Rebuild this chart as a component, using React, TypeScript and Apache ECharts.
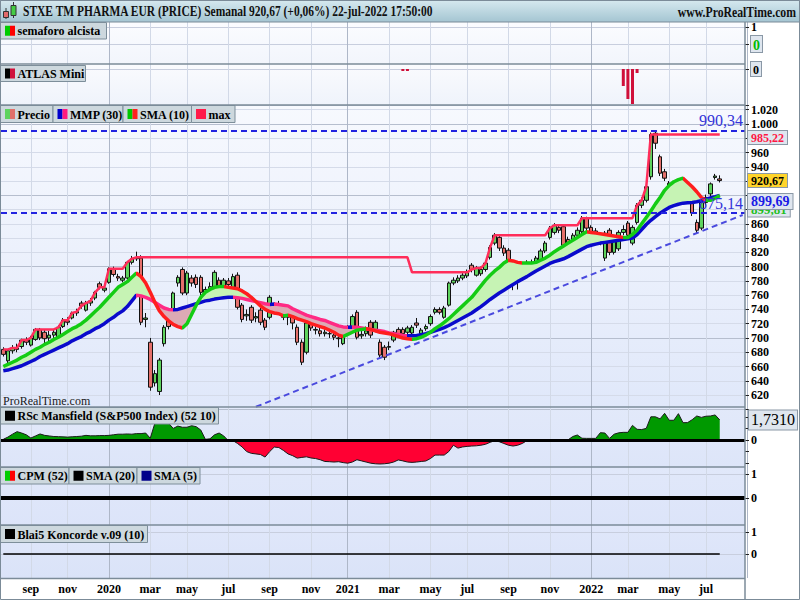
import React, { useEffect, useRef } from "react";
import * as echarts from "echarts";

const FONT = '"Liberation Serif", "DejaVu Serif", serif';

// ---------------- data ----------------
const firstWeek = "2019-07-26"; // first weekly bar (Friday)
const emptyWeeksAfter = 5;
const monthNames = ["ene", "feb", "mar", "abr", "may", "jun", "jul", "ago", "sep", "oct", "nov", "dic"];
const titleText = "STXE TM PHARMA EUR (PRICE) Semanal 920,67 (+0,06%) 22-jul-2022 17:50:00";

const opens = [
  684, 668, 682, 686, 688, 697, 690, 698, 712, 708,
  700, 704, 700, 716, 724, 728, 735, 749, 739, 749,
  756, 776, 767, 778, 796, 786, 781, 784, 806, 811,
  812, 726, 694, 637, 625, 692, 729, 732, 777, 796,
  763, 784, 785, 785, 763, 768, 767, 781, 772, 780,
  768, 788, 746, 731, 743, 728, 739, 725, 729, 736,
  748, 743, 729, 736, 715, 694, 680, 725, 711, 710,
  706, 706, 704, 700, 692, 706, 716, 736, 703, 706,
  722, 711, 694, 687, 687, 697, 712, 712, 708, 707,
  721, 706, 713, 720, 736, 740, 729, 746, 777, 780,
  784, 787, 802, 788, 790, 796, 813, 833, 841, 826,
  823, 778, 781, 787, 791, 806, 805, 809, 822, 841,
  848, 855, 856, 838, 826, 844, 849, 868, 855, 850,
  840, 812, 851, 820, 825, 848, 861, 833, 862, 886,
  893, 926, 987, 954, 933, 898, 912, 889, 905, 907,
  890, 862, 854, 890, 902, 925, 923,
];
const highs = [
  687, 684, 690, 692, 699, 701, 703, 714, 714, 712,
  710, 712, 718, 728, 729, 737, 741, 752, 752, 756,
  766, 779, 773, 799, 800, 790, 787, 808, 815, 821,
  816, 735, 700, 655, 672, 718, 732, 765, 788, 799,
  794, 788, 789, 788, 772, 778, 795, 785, 784, 784,
  790, 792, 749, 740, 746, 736, 742, 728, 760, 750,
  752, 747, 738, 740, 719, 698, 724, 729, 716, 714,
  712, 710, 708, 704, 709, 718, 733, 739, 712, 716,
  725, 725, 698, 690, 695, 710, 715, 715, 717, 718,
  728, 714, 719, 733, 743, 743, 745, 779, 785, 788,
  791, 796, 805, 801, 800, 808, 830, 847, 844, 830,
  826, 794, 794, 796, 809, 810, 815, 825, 836, 857,
  861, 859, 858, 842, 847, 855, 871, 870, 858, 854,
  845, 850, 854, 843, 851, 858, 864, 858, 889, 897,
  915, 988, 990.34, 957, 937, 920, 916, 903, 908, 910,
  893, 866, 893, 901, 918, 930, 928,
];
const lows = [
  674, 662, 678, 680, 685, 690, 688, 696, 697, 686,
  695, 700, 698, 714, 718, 726, 731, 741, 737, 745,
  753, 768, 764, 776, 786, 780, 778, 782, 803, 808,
  718, 715, 626, 632, 620, 688, 712, 728, 772, 760,
  760, 772, 770, 760, 758, 764, 765, 768, 769, 771,
  766, 740, 722, 724, 721, 722, 718, 711, 726, 733,
  738, 725, 718, 712, 690, 662, 677, 710, 705, 702,
  702, 700, 697, 687, 690, 703, 714, 698, 699, 702,
  700, 708, 672, 669, 683, 694, 700, 703, 705, 704,
  714, 703, 710, 717, 733, 733, 727, 744, 774, 777,
  781, 784, 792, 786, 787, 793, 810, 830, 822, 815,
  781, 767, 768, 784, 788, 799, 802, 806, 819, 838,
  845, 847, 826, 815, 822, 840, 846, 850, 843, 836,
  830, 808, 816, 817, 822, 844, 840, 830, 859, 882,
  890, 922, 965, 927, 920, 895, 888, 885, 898, 892,
  871, 847, 851, 886, 899, 922, 918,
];
const closes = [
  677, 682, 686, 684, 697, 694, 700, 712, 700, 699,
  704, 708, 715, 725, 722, 735, 737, 745, 749, 752,
  764, 771, 770, 797, 789, 784, 784, 806, 811, 813,
  722, 728, 631, 650, 669, 715, 716, 763, 785, 763,
  791, 777, 775, 764, 768, 772, 792, 771, 781, 775,
  786, 743, 726, 733, 725, 730, 722, 715, 757, 746,
  743, 729, 733, 721, 694, 666, 721, 714, 712, 706,
  708, 706, 701, 699, 706, 714, 730, 701, 705, 710,
  704, 722, 676, 673, 688, 708, 703, 706, 714, 715,
  718, 711, 716, 730, 740, 736, 742, 777, 781, 784,
  788, 792, 796, 798, 796, 805, 827, 844, 826, 819,
  785, 791, 791, 791, 806, 803, 812, 822, 833, 854,
  858, 851, 830, 820, 844, 851, 868, 854, 847, 840,
  836, 847, 820, 840, 848, 852, 844, 855, 886, 893,
  912, 985.22, 973, 931, 924, 917, 893, 900, 902, 896,
  875, 851, 890, 897, 916, 927, 920.67,
];
const sma10 = [
  660, 663, 666, 669, 673, 676, 680, 684, 687, 691,
  694, 698, 701, 705, 709, 713, 716, 720, 725, 731,
  737, 743, 750, 757, 764, 771, 775, 779, 785, 791,
  786, 777, 764, 750, 738, 730, 724, 719, 716, 714,
  720, 733, 746, 757, 764, 768, 771, 772, 772, 771,
  770, 769, 766, 762, 757, 751, 745, 740, 737, 735,
  734, 731, 732, 730, 727, 725, 723, 720, 718, 716,
  714, 711, 708, 704, 702, 705, 708, 711, 712, 713,
  712, 710, 708, 707, 706, 704, 702, 700, 699, 698,
  699, 701, 704, 708, 713, 717, 722, 727, 733, 739,
  745, 751, 757, 765, 773, 781, 788, 794, 799, 805,
  809, 808, 806, 805, 805, 805, 806, 809, 812, 816,
  821, 825, 829, 833, 837, 841, 845, 849, 848, 847,
  846, 845, 844, 843, 842, 841, 841, 845, 851, 860,
  869, 878, 888, 897, 907, 914, 919, 922, 924, 918,
  912, 905, 897, 893, 893, 896, 899.81,
];
const mmp30 = [
  654, 655, 657, 659, 661, 664, 667, 670, 674, 677,
  680, 683, 686, 689, 692, 696, 699, 702, 706, 709,
  713, 716, 720, 725, 729, 734, 738, 744, 752, 760,
  759, 757, 754, 750, 746, 742, 740, 739.5, 740, 742,
  744, 746, 748, 750, 752, 753, 754.5, 755.5, 756.5, 757,
  757, 756.5, 755.5, 754, 752.5, 751, 749.5, 748, 747, 747.5,
  747, 746, 745, 741, 738, 735, 732, 730, 728, 726,
  724.5, 722, 719.5, 717, 715.5, 715, 715.5, 715, 714, 713,
  712, 711, 710, 709, 707, 706, 705, 703.5, 703, 703,
  703.5, 704.5, 706, 708, 710, 712, 714.5, 717.5, 721, 724.5,
  728, 731.5, 735, 739.5, 744, 749, 754, 758.5, 763, 767,
  771, 775, 779, 782.5, 786, 790, 794, 797.5, 801, 804.5,
  807, 809, 811, 814, 817.5, 821, 824.5, 828, 830, 831.5,
  833, 834, 835, 836, 837, 838, 839, 840, 845, 852,
  859, 865, 870, 875, 879, 883, 885.5, 887.5, 889, 889.5,
  890, 891, 892.5, 894.5, 896.5, 898, 899.69,
];
const maxClose = [
  684, 684, 686, 686, 697, 697, 700, 712, 712, 712,
  712, 712, 715, 725, 725, 735, 737, 745, 749, 752,
  764, 771, 771, 797, 797, 797, 797, 806, 811, 813,
  813, 813, 813, 813, 813, 813, 813, 813, 813, 813,
  813, 813, 813, 813, 813, 813, 813, 813, 813, 813,
  813, 813, 813, 813, 813, 813, 813, 813, 813, 813,
  813, 813, 813, 813, 813, 813, 813, 813, 813, 813,
  813, 813, 813, 813, 813, 813, 813, 813, 813, 813,
  813, 813, 813, 813, 813, 813, 813, 813, 813, 792,
  792, 792, 792, 792, 792, 792, 792, 792, 792, 792,
  792, 792, 796, 798, 798, 805, 827, 844, 844, 844,
  844, 844, 844, 844, 844, 844, 844, 844, 844, 854,
  858, 858, 858, 858, 858, 858, 868, 868, 868, 868,
  868, 868, 868, 868, 868, 868, 868, 868, 886, 893,
  912, 985.22, 985.22, 985.22, 985.22, 985.22, 985.22, 985.22, 985.22, 985.22,
  985.22, 985.22, 985.22, 985.22, 985.22, 985.22, 985.22,
];
const rscMansfield = [
  0.06, 0.25, 0.5, 0.72, 0.6, 0.45, 0.17, 0.35, 0.52, 0.4,
  0.35, 0.3, 0.29, 0.27, 0.25, 0.28, 0.3, 0.33, 0.4, 0.36,
  0.36, 0.38, 0.38, 0.4, 0.45, 0.5, 0.5, 0.52, 0.5, 0.55,
  0.55, 0.6, 0.15, 1.44, 1.45, 1.42, 1.44, 1.0, 1.2, 1.1,
  1.1, 1.23, 1.15, 0.86, 0.06, 0.1, 0.45, 0.6, 0.35, -0.06,
  -0.05, -0.3, -0.6, -1.0, -1.15, -1.2, -1.25, -1.47, -1.0, -0.61,
  -0.65, -0.9, -1.2, -1.35, -1.56, -1.5, -1.45, -1.55, -1.6, -1.7,
  -1.85, -1.87, -1.9, -1.87, -1.95, -2.0, -1.9, -1.7, -1.8, -1.9,
  -2.0, -2.05, -2.07, -2.05, -2.0, -1.9, -1.72, -1.8, -1.9, -1.93,
  -1.9, -1.85, -1.81, -1.6, -1.3, -1.3, -1.3, -1.0, -0.45, -0.7,
  -0.6, -0.55, -0.52, -0.5, -0.45, -0.37, -0.2, -0.06, -0.15, -0.3,
  -0.45, -0.52, -0.45, -0.3, -0.06, -0.05, -0.03, -0.02, 0.0, 0.01,
  0.01, 0.02, 0.02, 0.02, 0.3, 0.43, 0.15, 0.14, 0.14, 0.14,
  0.63, 0.6, 0.14, 0.5, 0.62, 0.66, 0.66, 1.26, 0.92, 0.9,
  1.0, 2.0, 2.0, 1.82, 2.3, 1.7, 1.7, 2.27, 1.49, 1.5,
  1.75, 2.07, 1.95, 2.05, 2.07, 2.16, 1.731,
];
// ATLAS Mini: [bar index, value]; all other weeks are empty
const atlasMini = [[87, -2], [88, -2], [135, -17], [136, -30], [137, -35], [138, -4]];
const resistanceLevel = 990.34;
const supportLevel = 875.14;
// dashed support trend line: [bar index, price]
const trendStart = [55, 603.5];
const trendEnd = [161, 872.4];
const cpmLevel = 0;
const koncordeLevel = 0;

// ---------------- helpers ----------------
function buildWeeks(): string[] {
  const [y, m, d] = firstWeek.split("-").map(Number);
  const start = Date.UTC(y, m - 1, d);
  const out: string[] = [];
  for (let i = 0; i < closes.length + emptyWeeksAfter; i++) {
    out.push(new Date(start + i * 7 * 86400000).toISOString().slice(0, 10));
  }
  return out;
}
const comma = (v: number, dec: number) => v.toFixed(dec).replace(".", ",");

function slopePieces(vals: number[], up: string, down: string) {
  const pieces: any[] = [];
  let start = -1000;
  let cur = vals[1] >= vals[0];
  for (let i = 1; i < vals.length - 1; i++) {
    const s = vals[i + 1] >= vals[i];
    if (s !== cur) {
      pieces.push({ gte: start, lt: i, color: cur ? up : down });
      start = i;
      cur = s;
    }
  }
  pieces.push({ gte: start, lte: 10000, color: cur ? up : down });
  return pieces;
}
function bandPieces(a: number[], b: number[], above: string, below: string) {
  const pieces: any[] = [];
  let start = -1000;
  let cur = a[0] >= b[0];
  for (let i = 1; i < a.length; i++) {
    const s = a[i] >= b[i];
    if (s !== cur) {
      pieces.push({ gte: start, lt: i - 0.5, color: cur ? above : below });
      start = i - 0.5;
      cur = s;
    }
  }
  pieces.push({ gte: start, lte: 10000, color: cur ? above : below });
  return pieces;
}

function legendRow(y: number, h: number, cells: { w: number; icon: string[]; text: string }[]) {
  const els: any[] = [];
  let x = 0.5;
  for (const c of cells) {
    els.push({ type: "rect", silent: true, z: 100, shape: { x, y, width: c.w, height: h }, style: { fill: "#cdd8de", stroke: "#7d8e9a", lineWidth: 1 } });
    const iy = y + (h - 10) / 2;
    if (c.icon.length === 2) {
      els.push({ type: "rect", silent: true, z: 101, shape: { x: x + 4.5, y: iy, width: 5, height: 10 }, style: { fill: c.icon[0] } });
      els.push({ type: "rect", silent: true, z: 101, shape: { x: x + 9.5, y: iy, width: 5, height: 10 }, style: { fill: c.icon[1] } });
    } else {
      els.push({ type: "rect", silent: true, z: 101, shape: { x: x + 4.5, y: iy, width: 10, height: 10 }, style: { fill: c.icon[0] } });
    }
    els.push({
      type: "text", silent: true, z: 101, x: x + 17, y: y + h / 2 + 0.5,
      style: { text: c.text, font: `bold 12px ${FONT}`, fill: "#000", verticalAlign: "middle", textVerticalAlign: "middle" },
    });
    x += c.w;
  }
  return els;
}

function buildOption() {
  const cats = buildWeeks();
  const last = closes.length - 1;
  const labelText: Record<number, string> = {};
  const monthIdx = new Set<number>();
  const yearIdx = new Set<number>();
  for (let i = 1; i < cats.length; i++) {
    const m = Number(cats[i].slice(5, 7));
    const pm = Number(cats[i - 1].slice(5, 7));
    if (m !== pm && m % 2 === 1) {
      monthIdx.add(i);
      if (m === 1) yearIdx.add(i);
      labelText[i] = m === 1 ? cats[i].slice(0, 4) : monthNames[m - 1];
    }
  }

  // price grid scale (px per price unit) for placing last-value boxes
  const priceMin = 600;
  const priceMax = 1026.6;
  const priceHeight = 304.3;
  const pxPerUnit = priceHeight / (priceMax - priceMin);
  const boxes = [
    { v: maxClose[last], dy: 3, color: "#ff1744", bg: "#dfe6ef", size: 12 },
    { v: sma10[last], dy: 14, color: "#1fbf1f", bg: "#dfe6ef", size: 13 },
    { v: mmp30[last], dy: 6, color: "#1a1ae6", bg: "#dfe6ef", size: 14 },
    { v: closes[last], dy: 0, color: "#000", bg: "#ffd42a", size: 12 },
  ];
  const boxCenters = boxes.map((b) => b.v - b.dy / pxPerUnit);

  const hiddenX = (gridIndex: number) => ({ type: "category", gridIndex, data: cats, boundaryGap: true, show: false });
  const tick = { show: true, length: 4, lineStyle: { color: "#222" } };
  const labelBase = { margin: 6, color: "#000", fontWeight: "bold", fontSize: 12, fontFamily: FONT };
  const boxRich = (color: string, size: number) => ({
    color, fontWeight: "bold", fontSize: size, fontFamily: FONT,
    backgroundColor: "#dfe6ef", borderColor: "#8a98a6", borderWidth: 1, padding: [2, 2, 0, 2],
  });
  const valueBox = (b: { v: number; dy: number; color: string; bg: string; size: number }) => ({
    yAxis: b.v,
    lineStyle: { color: "transparent", width: 0 },
    label: {
      show: true, position: "end", distance: 3, formatter: comma(b.v, 2), color: b.color, backgroundColor: b.bg,
      borderColor: "#8a98a6", borderWidth: 1, padding: [1, 3, 0, 3], fontWeight: "bold", fontSize: b.size,
      fontFamily: FONT, offset: [0, b.dy],
    },
  });

  const atlasData: (number | null)[] = cats.map(() => null);
  atlasMini.forEach(([i, v]) => (atlasData[i] = v));
  const candleData = opens.map((o, i) => [o, closes[i], lows[i], highs[i]]);
  const bandBase = sma10.map((s, i) => Math.min(s, mmp30[i]));
  const bandSize = sma10.map((s, i) => Math.abs(s - mmp30[i]));

  const panelBg = (y: number, h: number, c1: string, c2: string) => ({
    type: "rect", silent: true, z: -10, shape: { x: 0, y, width: 745, height: h },
    style: { fill: { type: "linear", x: 0, y: 0, x2: 0, y2: 1, colorStops: [{ offset: 0, color: c1 }, { offset: 1, color: c2 }] } },
  });
  const sep = (y: number) => ({ type: "line", silent: true, z: 102, shape: { x1: 0, y1: y, x2: 745, y2: y }, style: { stroke: "#7b8b98", lineWidth: 1.5 } });

  const graphics: any[] = [
    { type: "rect", silent: true, z: -20, shape: { x: 0, y: 0, width: 800, height: 600 }, style: { fill: "#ffffff" } },
    panelBg(22, 42, "#fbfcff", "#f2f5fc"),
    panelBg(64, 41, "#fafbfe", "#eff3fb"),
    panelBg(105, 302, "#f7f9fe", "#e0e8fa"),
    panelBg(407, 60, "#e2e9fa", "#dde5f9"),
    panelBg(467, 58, "#e1e8fa", "#dce4f9"),
    panelBg(525, 53, "#e0e7fa", "#dae3f8"),
    // header
    {
      type: "rect", silent: true, z: 100, shape: { x: 0, y: 0, width: 800, height: 22 },
      style: { fill: { type: "linear", x: 0, y: 0, x2: 0, y2: 1, colorStops: [{ offset: 0, color: "#d6e9ef" }, { offset: 1, color: "#a4c5d2" }] }, stroke: "#7b8b98", lineWidth: 1 },
    },
    { type: "line", silent: true, z: 101, shape: { x1: 6, y1: 8, x2: 6, y2: 19 }, style: { stroke: "#333", lineWidth: 1 } },
    { type: "rect", silent: true, z: 102, shape: { x: 3.5, y: 11.5, width: 5, height: 6 }, style: { fill: "#e26a6a", stroke: "#333", lineWidth: 1 } },
    { type: "line", silent: true, z: 101, shape: { x1: 13.5, y1: 2, x2: 13.5, y2: 18 }, style: { stroke: "#333", lineWidth: 1 } },
    { type: "rect", silent: true, z: 102, shape: { x: 11, y: 5.5, width: 5, height: 10 }, style: { fill: "#44cc44", stroke: "#333", lineWidth: 1 } },
    { type: "text", silent: true, z: 102, x: 23, y: 12, scaleX: 0.82, style: { text: titleText, font: `bold 14px ${FONT}`, fill: "#111", verticalAlign: "middle", textVerticalAlign: "middle" } },
    { type: "text", silent: true, z: 102, x: 796, y: 12, scaleX: 0.84, style: { text: "www.ProRealTime.com", font: `bold 14px ${FONT}`, fill: "#111", align: "right", textAlign: "right", verticalAlign: "middle", textVerticalAlign: "middle" } },
    // separators & frame
    sep(64), sep(105), sep(407), sep(467), sep(525), sep(578.5),
    { type: "line", silent: true, z: 102, shape: { x1: 745, y1: 22, x2: 745, y2: 600 }, style: { stroke: "#7b8b98", lineWidth: 1.5 } },
    { type: "rect", silent: true, z: 103, shape: { x: 0.5, y: 0.5, width: 799, height: 599 }, style: { fill: "none", stroke: "#7b8b98", lineWidth: 1 } },
    { type: "text", silent: true, z: 50, x: 3, y: 401, style: { text: "ProRealTime.com", font: `12px ${FONT}`, fill: "#1a1a1a", verticalAlign: "middle", textVerticalAlign: "middle" } },
    ...legendRow(22.5, 16.5, [{ w: 106, icon: ["#00cc00", "#ff0000"], text: "semaforo alcista" }]),
    ...legendRow(65.5, 16, [{ w: 85, icon: ["#000000", "#d0103a"], text: "ATLAS Mini" }]),
    ...legendRow(105.5, 17, [
      { w: 52.5, icon: ["#5ed35e", "#e0706a"], text: "Precio" },
      { w: 70, icon: ["#0000cc", "#ff1a80"], text: "MMP (30)" },
      { w: 68.5, icon: ["#00c800", "#ff2020"], text: "SMA (10)" },
      { w: 43.5, icon: ["#ff1a4a"], text: "max" },
    ]),
    ...legendRow(407.5, 16.5, [{ w: 218, icon: ["#000000"], text: "RSc Mansfield (S&P500 Index) (52 10)" }]),
    ...legendRow(467.5, 16.5, [
      { w: 68.5, icon: ["#00cc00", "#ff0000"], text: "CPM (52)" },
      { w: 68, icon: ["#000000"], text: "SMA (20)" },
      { w: 63, icon: ["#00008b"], text: "SMA (5)" },
    ]),
    ...legendRow(525.5, 17, [{ w: 147, icon: ["#000000"], text: "Blai5 Koncorde v.09 (10)" }]),
  ];

  return {
    animation: false,
    backgroundColor: "#ffffff",
    grid: [
      { left: 3.3, top: 22, width: 744, height: 556 },
      { left: 1, top: 27, width: 744, height: 17 },
      { left: 1, top: 69, width: 744, height: 36 },
      { left: 1, top: 105, width: 744, height: priceHeight },
      { left: 1, top: 416.8, width: 744, height: 46.4 },
      { left: 1, top: 474, width: 744, height: 24 },
      { left: 1, top: 532, width: 744, height: 22 },
    ],
    xAxis: [
      {
        type: "category", gridIndex: 0, data: cats, boundaryGap: true,
        axisLine: { show: false }, axisTick: { show: false }, axisLabel: { show: false },
        splitLine: { show: true, interval: (i: number) => monthIdx.has(i) && !yearIdx.has(i), lineStyle: { color: "#d2d9e7", width: 1 } },
      },
      {
        type: "category", gridIndex: 0, position: "top", data: cats, boundaryGap: true,
        axisLine: { show: false }, axisTick: { show: false }, axisLabel: { show: false },
        splitLine: { show: true, interval: (i: number) => yearIdx.has(i), lineStyle: { color: "#aeb7c8", width: 1 } },
      },
      hiddenX(1), hiddenX(2), hiddenX(3), hiddenX(4), hiddenX(5),
      {
        type: "category", gridIndex: 6, data: cats, boundaryGap: true,
        axisLine: { show: false }, axisTick: { show: false }, splitLine: { show: false },
        axisLabel: {
          show: true, interval: (i: number) => labelText[i] !== undefined,
          formatter: (_v: string, i: number) => labelText[i] ?? "",
          margin: 29, color: "#000", fontWeight: "bold", fontSize: 12, fontFamily: FONT,
        },
      },
    ],
    yAxis: [
      { type: "value", gridIndex: 0, show: false, min: 0, max: 1 },
      {
        type: "value", gridIndex: 1, position: "right", min: 0, max: 1, interval: 1,
        axisLine: { show: false }, axisTick: tick,
        splitLine: { show: true, lineStyle: { color: "#c8cede" } },
        axisLabel: {
          ...labelBase,
          formatter: (v: number) => (v === 0 ? "{g|0}" : "{k|1}"),
          rich: { g: boxRich("#00bb00", 14), k: { color: "#000", fontWeight: "bold", fontSize: 12, fontFamily: FONT } },
        },
      },
      {
        type: "value", gridIndex: 2, position: "right", min: -36, max: 0, interval: 36,
        axisLine: { show: false }, axisTick: tick,
        splitLine: { show: true, lineStyle: { color: "#c8cede" } },
        axisLabel: { ...labelBase, formatter: (v: number) => (v === 0 ? "{b|0}" : ""), rich: { b: boxRich("#000", 12) } },
      },
      {
        type: "value", gridIndex: 3, position: "right", min: priceMin, max: priceMax, interval: 20,
        axisLine: { show: false }, axisTick: tick,
        splitLine: { show: true, lineStyle: { color: "#d5dbe9" } },
        axisLabel: {
          ...labelBase,
          formatter: (v: number) => {
            if (v <= priceMin) return "";
            if (boxCenters.some((c) => Math.abs(c - v) < 12)) return ""; // covered by a value box
            return v >= 1000 ? `${Math.floor(v / 1000)}.${String(v % 1000).padStart(3, "0")}` : String(v);
          },
        },
      },
      {
        type: "value", gridIndex: 3, position: "left", min: priceMin, max: priceMax, interval: 100,
        axisLine: { show: false }, axisTick: { show: false }, axisLabel: { show: false },
        splitLine: { show: true, lineStyle: { color: "#b6bece" } },
      },
      {
        type: "value", gridIndex: 4, position: "right", min: -2, max: 2, interval: 1,
        axisLine: { show: false }, axisTick: tick, splitLine: { show: false },
        axisLabel: { ...labelBase, formatter: (v: number) => (v === 0 ? "0" : "") },
      },
      {
        type: "value", gridIndex: 5, position: "right", min: 0, max: 1, interval: 1,
        axisLine: { show: false }, axisTick: tick,
        splitLine: { show: true, lineStyle: { color: "#c8cede" } },
        axisLabel: { ...labelBase },
      },
      {
        type: "value", gridIndex: 6, position: "right", min: 0, max: 1, interval: 1,
        axisLine: { show: false }, axisTick: tick,
        splitLine: { show: true, lineStyle: { color: "#c8cede" } },
        axisLabel: { ...labelBase },
      },
    ],
    visualMap: [
      { type: "piecewise", show: false, seriesIndex: 2, dimension: 0, pieces: bandPieces(sma10, mmp30, "#c6f3b4", "#dcaab4") },
      { type: "piecewise", show: false, seriesIndex: 5, dimension: 0, pieces: slopePieces(mmp30, "#0a0acc", "#ff2a84") },
      { type: "piecewise", show: false, seriesIndex: 6, dimension: 0, pieces: slopePieces(sma10, "#14cc14", "#ff1e1e") },
      { type: "piecewise", show: false, seriesIndex: 8, dimension: 1, pieces: [{ gte: -100, lt: 0, color: "#ff0033" }, { gte: 0, lte: 100, color: "#009900" }] },
    ],
    series: [
      // 0 ATLAS Mini
      { type: "bar", xAxisIndex: 3, yAxisIndex: 2, data: atlasData, barWidth: 3, itemStyle: { color: "#d0103a" }, silent: true },
      // 1-2 band between SMA(10) and MMP(30)
      { type: "line", xAxisIndex: 4, yAxisIndex: 3, stack: "band", data: bandBase, symbol: "none", lineStyle: { opacity: 0, width: 0 }, silent: true },
      { type: "line", xAxisIndex: 4, yAxisIndex: 3, stack: "band", data: bandSize, symbol: "none", lineStyle: { width: 0, opacity: 0 }, areaStyle: { opacity: 1 }, silent: true },
      // 3 price candles
      {
        type: "candlestick", xAxisIndex: 4, yAxisIndex: 3, data: candleData, barWidth: 4, silent: true,
        itemStyle: { color: "#5ed35e", color0: "#e5706b", borderColor: "#111", borderColor0: "#111", borderWidth: 1 },
        markLine: {
          silent: true, symbol: ["none", "none"], animation: false,
          data: [
            {
              yAxis: resistanceLevel, lineStyle: { color: "#2323e0", width: 2, type: [6, 4] },
              label: { show: true, position: "insideEndTop", distance: 2, formatter: comma(resistanceLevel, 2), color: "#3434d8", fontSize: 16, fontFamily: FONT },
            },
            {
              yAxis: supportLevel, lineStyle: { color: "#2323e0", width: 2, type: [6, 4] },
              label: { show: true, position: "insideEndTop", distance: 2, formatter: comma(supportLevel, 2), color: "#3434d8", fontSize: 16, fontFamily: FONT },
            },
            [
              { coord: [cats[trendStart[0]], trendStart[1]], lineStyle: { color: "#4a4ade", width: 2, type: [6, 4] }, label: { show: false } },
              { coord: [cats[trendEnd[0]], trendEnd[1]], lineStyle: { color: "#4a4ade", width: 2, type: [6, 4] }, label: { show: false } },
            ],
          ],
        },
      },
      // 4 max
      { type: "line", xAxisIndex: 4, yAxisIndex: 3, data: maxClose, symbol: "none", silent: true, lineStyle: { color: "#ff2d5a", width: 2.5 } },
      // 5 MMP(30)
      { type: "line", xAxisIndex: 4, yAxisIndex: 3, data: mmp30, symbol: "none", silent: true, lineStyle: { width: 3.5 } },
      // 6 SMA(10)
      { type: "line", xAxisIndex: 4, yAxisIndex: 3, data: sma10, symbol: "none", silent: true, lineStyle: { width: 3.5 } },
      // 7 last-value boxes on the price axis
      {
        type: "line", xAxisIndex: 4, yAxisIndex: 3, data: [], silent: true,
        markLine: { silent: true, symbol: ["none", "none"], animation: false, data: boxes.map(valueBox) },
      },
      // 8 RSc Mansfield area
      { type: "line", xAxisIndex: 5, yAxisIndex: 5, data: rscMansfield, symbol: "none", silent: true, clip: false, lineStyle: { width: 0, opacity: 0 }, areaStyle: { opacity: 1 } },
      // 9 RSc outline + zero line + value box
      {
        type: "line", xAxisIndex: 5, yAxisIndex: 5, data: rscMansfield, symbol: "none", silent: true, clip: false,
        lineStyle: { color: "#1a1a1a", width: 1 },
        markLine: {
          silent: true, symbol: ["none", "none"], animation: false,
          data: [
            { yAxis: 0, lineStyle: { color: "#000", width: 3, type: "solid" }, label: { show: false } },
            {
              yAxis: rscMansfield[last], lineStyle: { color: "transparent", width: 0 },
              label: {
                show: true, position: "end", distance: 4, formatter: comma(rscMansfield[last], 4), color: "#000",
                backgroundColor: "#dfe6ef", borderColor: "#8a98a6", borderWidth: 1, padding: [2, 2, 1, 2], fontSize: 16, fontFamily: FONT,
              },
            },
          ],
        },
      },
      // 10 CPM level
      {
        type: "line", xAxisIndex: 6, yAxisIndex: 6, data: [], silent: true,
        markLine: { silent: true, symbol: ["none", "none"], animation: false, data: [{ yAxis: cpmLevel, lineStyle: { color: "#000", width: 4, type: "solid" }, label: { show: false } }] },
      },
      // 11 Koncorde
      {
        type: "line", xAxisIndex: 7, yAxisIndex: 7, data: [], silent: true,
        markLine: {
          silent: true, symbol: ["none", "none"], animation: false,
          data: [[
            { coord: [cats[0], koncordeLevel], lineStyle: { color: "#000", width: 1.5, type: "solid" }, label: { show: false } },
            { coord: [cats[last], koncordeLevel], lineStyle: { color: "#000", width: 1.5, type: "solid" }, label: { show: false } },
          ]],
        },
      },
    ],
    graphic: { elements: graphics },
  };
}

export default function App() {
  const ref = useRef<HTMLDivElement>(null);
  useEffect(() => {
    if (!ref.current) return;
    const chart = echarts.init(ref.current, undefined, { renderer: "svg" });
    chart.setOption(buildOption() as any);
    return () => chart.dispose();
  }, []);
  return <div ref={ref} style={{ position: "absolute", left: 0, top: 0, width: 800, height: 600 }} />;
}
